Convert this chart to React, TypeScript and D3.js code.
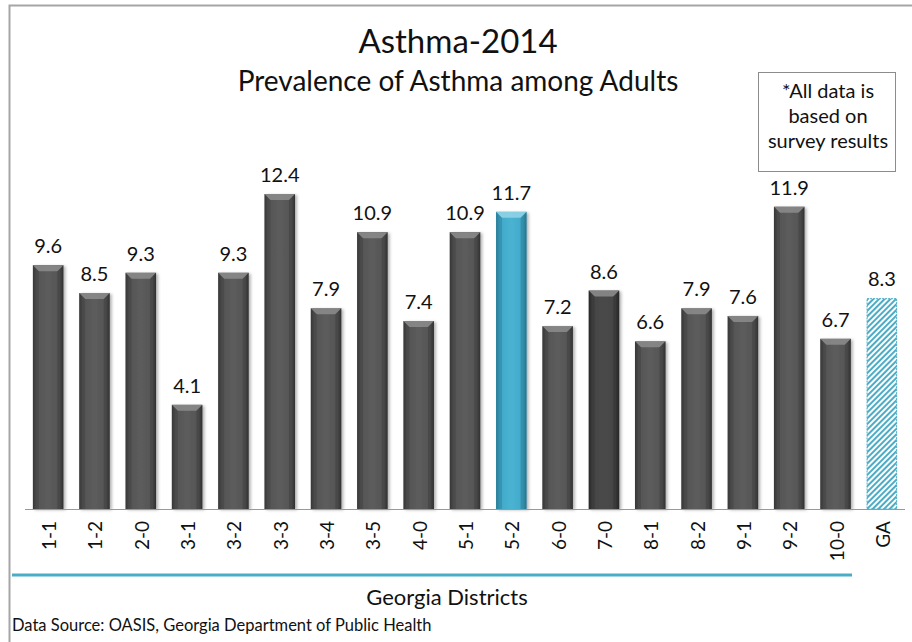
import React from "react";
import * as d3 from "d3";

const categories = ["1-1","1-2","2-0","3-1","3-2","3-3","3-4","3-5","4-0","5-1","5-2","6-0","7-0","8-1","8-2","9-1","9-2","10-0","GA"];
const values = [9.6,8.5,9.3,4.1,9.3,12.4,7.9,10.9,7.4,10.9,11.7,7.2,8.6,6.6,7.9,7.6,11.9,6.7,8.3];
const highlight = "5-2";
const darker = "7-0";
const stateCat = "GA";
const noteLines = ["*All data is", "based on", "survey results"];

const W = 912, H = 642;
const font = "Lato, 'Open Sans', sans-serif";

export default function App() {
  const x = d3.scaleBand<string>().domain(categories).range([25, 905]).paddingInner(0.34).paddingOuter(0.17);
  const y = d3.scaleLinear().domain([0, 14]).range([509, 509 - 14 * 25.4]);
  const bw = x.bandwidth();
  return (
    <svg width={W} height={H} style={{ position: "absolute", left: 0, top: 0, background: "#fff" }}>
      <defs>
        <linearGradient id="gGrey" x1="0" x2="1" y1="0" y2="0">
          <stop offset="0" stopColor="#3e3e3e" />
          <stop offset="0.12" stopColor="#555" />
          <stop offset="0.5" stopColor="#5c5c5c" />
          <stop offset="0.88" stopColor="#555" />
          <stop offset="1" stopColor="#3a3a3a" />
        </linearGradient>
        <linearGradient id="gDark" x1="0" x2="1" y1="0" y2="0">
          <stop offset="0" stopColor="#2e2e2e" />
          <stop offset="0.12" stopColor="#444" />
          <stop offset="0.5" stopColor="#4a4a4a" />
          <stop offset="0.88" stopColor="#444" />
          <stop offset="1" stopColor="#2c2c2c" />
        </linearGradient>
        <linearGradient id="gBlue" x1="0" x2="1" y1="0" y2="0">
          <stop offset="0" stopColor="#2f8fae" />
          <stop offset="0.12" stopColor="#3fa9c9" />
          <stop offset="0.5" stopColor="#4bb3d2" />
          <stop offset="0.88" stopColor="#3fa9c9" />
          <stop offset="1" stopColor="#2c88a6" />
        </linearGradient>
        <pattern id="hatch" width="4" height="4" patternUnits="userSpaceOnUse" patternTransform="rotate(45)">
          <rect width="4" height="4" fill="#ffffff" />
          <rect width="2" height="4" fill="#4bacc6" />
        </pattern>
        <filter id="sh" x="-20%" y="-5%" width="150%" height="115%">
          <feDropShadow dx="2" dy="1" stdDeviation="1.5" floodColor="#000" floodOpacity="0.3" />
        </filter>
      </defs>
      <rect x={9.5} y={5.5} width={W + 10} height={H + 10} fill="none" stroke="#a6a6a6" strokeWidth={2} />
      <text x={458} y={53} textAnchor="middle" fontFamily={font} fontSize={33} fill="#111">Asthma-2014</text>
      <text x={458} y={91} textAnchor="middle" fontFamily={font} fontSize={28} fill="#111">Prevalence of Asthma among Adults</text>
      <rect x={758.5} y={72.5} width={137} height={99} fill="#fff" stroke="#8c8c8c" strokeWidth={1} />
      {noteLines.map((l, i) => (
        <text key={l} x={828} y={98 + i * 25} textAnchor="middle" fontFamily={font} fontSize={20} fill="#111">{l}</text>
      ))}
      {categories.map((c, i) => {
        const v = values[i];
        const x0 = x(c)!;
        const yt = y(v);
        const h = y(0) - yt;
        if (c === stateCat) {
          return (
            <g key={c}>
              <rect x={x0 + 0.5} y={yt + 0.5} width={bw - 1} height={h - 0.5} fill="url(#hatch)" stroke="#4bacc6" strokeWidth={1} strokeDasharray="2,1" />
              <text x={x0 + bw / 2} y={yt - 12} textAnchor="middle" fontFamily={font} fontSize={20} fill="#111">{v.toFixed(1)}</text>
            </g>
          );
        }
        const fill = c === highlight ? "url(#gBlue)" : c === darker ? "url(#gDark)" : "url(#gGrey)";
        const bevel = c === highlight ? "#8fd3e6" : "#8a8a8a";
        const bv = 6;
        return (
          <g key={c}>
            <rect x={x0} y={yt} width={bw} height={h} fill={fill} filter="url(#sh)" />
            <path d={`M${x0},${yt}L${x0 + bw},${yt}L${x0 + bw - bv},${yt + bv}L${x0 + bv},${yt + bv}Z`} fill={bevel} opacity={0.9} />
            <path d={`M${x0},${yt}L${x0 + bv},${yt + bv}L${x0 + bv},${y(0)}L${x0},${y(0)}Z`} fill="#000" opacity={0.12} />
            <path d={`M${x0 + bw},${yt}L${x0 + bw - bv},${yt + bv}L${x0 + bw - bv},${y(0)}L${x0 + bw},${y(0)}Z`} fill="#000" opacity={0.15} />
            <text x={x0 + bw / 2} y={yt - 12} textAnchor="middle" fontFamily={font} fontSize={20} fill="#111">{v.toFixed(1)}</text>
          </g>
        );
      })}
      <line x1={25} x2={905} y1={509.5} y2={509.5} stroke="#999" strokeWidth={1} />
      {categories.map((c) => (
        <text key={c} transform={`translate(${x(c)! + bw / 2 + 8},521) rotate(-90)`} textAnchor="end" fontFamily={font} fontSize={19} fill="#111">{c}</text>
      ))}
      <line x1={12} x2={852} y1={575} y2={575} stroke="#4bacc6" strokeWidth={3} />
      <text x={447} y={605} textAnchor="middle" fontFamily={font} fontSize={22} fill="#111">Georgia Districts</text>
      <text x={12} y={631} fontFamily={font} fontSize={16.5} fill="#111">Data Source: OASIS, Georgia Department of Public Health</text>
    </svg>
  );
}
